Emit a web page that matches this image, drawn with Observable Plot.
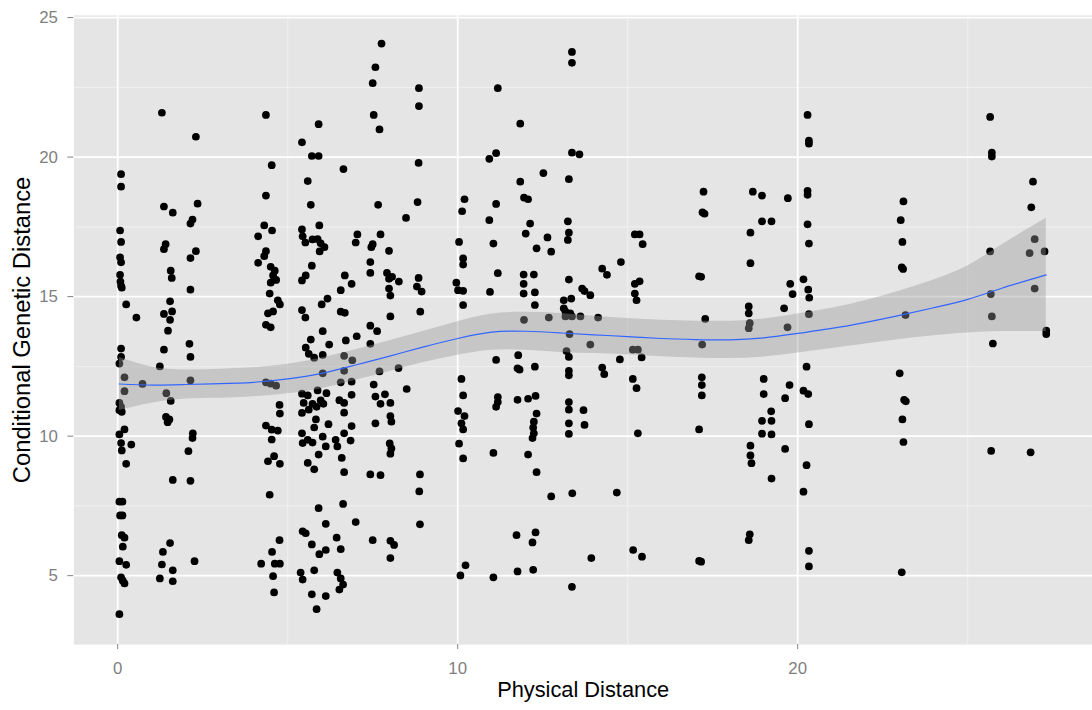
<!DOCTYPE html>
<html>
<head>
<meta charset="utf-8">
<script src="https://cdn.jsdelivr.net/npm/d3@7"></script>
<script src="https://cdn.jsdelivr.net/npm/@observablehq/plot@0.6"></script>
<style>
  html, body { margin: 0; padding: 0; overflow: hidden; background: #ffffff; }
</style>
</head>
<body>
<div id="chart"></div>
<script>
// Observations [physical distance, conditional genetic distance], grouped by distance cluster
const near0 = [[0.1,19.39],[0.1,18.94],[0.07,17.37],[0.1,16.96],[0.07,16.41],[0.1,16.23],[0.07,15.78],[0.08,15.54],[0.1,15.39],[0.12,15.32],[0.25,14.72],[0.55,14.25],[0.1,13.14],[0.1,12.84],[0.05,12.6],[0.2,12.11],[0.73,11.87],[0.2,11.61],[0.05,11.19],[0.1,11.05],[0.05,10.93],[0.12,10.87],[0.2,10.24],[0.05,10.06],[0.1,9.75],[0.4,9.7],[0.12,9.49],[0.25,9.01],[0.05,7.65],[0.14,7.65],[0.07,7.16],[0.14,7.16],[0.12,6.45],[0.2,6.36],[0.15,6.04],[0.05,5.52],[0.25,5.39],[0.1,4.94],[0.15,4.82],[0.2,4.72],[0.05,3.62]];
const near1 = [[1.3,21.59],[1.36,18.23],[1.62,18.01],[1.41,16.88],[1.36,16.7],[1.56,15.93],[1.59,15.67],[1.54,14.83],[1.36,14.38],[1.6,14.47],[1.54,14.17],[1.48,13.78],[1.36,13.1],[1.24,12.5],[1.43,11.54],[1.56,11.26],[1.42,10.69],[1.52,10.6],[1.47,10.5],[1.62,8.43],[1.54,6.17],[1.33,5.85],[1.3,5.4],[1.62,5.19],[1.24,4.9],[1.62,4.8]];
const near2 = [[2.3,20.73],[2.35,18.33],[2.2,17.76],[2.14,17.62],[2.3,16.63],[2.14,16.38],[2.14,15.25],[2.11,13.31],[2.14,12.84],[2.14,12.0],[2.21,10.1],[2.2,9.93],[2.08,9.46],[2.14,8.4],[2.26,5.52]];
const near4 = [[4.36,21.51],[4.53,19.71],[4.36,18.62],[4.31,17.55],[4.54,17.37],[4.13,17.16],[4.36,16.63],[4.31,16.45],[4.13,16.21],[4.5,16.07],[4.62,15.93],[4.57,15.76],[4.66,15.6],[4.5,15.5],[4.47,15.11],[4.71,14.87],[4.77,14.72],[4.42,14.4],[4.57,14.47],[4.36,13.99],[4.5,13.9],[4.36,11.93],[4.5,11.88],[4.66,11.81],[4.76,11.12],[4.77,10.81],[4.36,10.38],[4.53,10.23],[4.71,10.2],[4.53,9.88],[4.42,9.1],[4.6,9.28],[4.77,9.01],[4.47,7.9],[4.76,6.27],[4.54,5.85],[4.22,5.43],[4.62,5.43],[4.77,5.43],[4.57,4.98],[4.6,4.4]];
const near6 = [[5.42,20.53],[5.91,21.18],[5.71,20.04],[5.91,20.04],[5.59,19.14],[5.68,18.29],[5.93,17.55],[5.42,17.41],[5.44,17.16],[5.52,16.94],[5.73,17.05],[5.88,17.06],[5.97,16.91],[5.94,16.62],[6.08,16.77],[5.71,16.11],[5.53,15.76],[5.42,15.58],[6.17,14.93],[6.0,14.72],[5.42,14.52],[5.52,14.25],
  [6.03,13.76],[5.68,13.46],[5.53,13.17],[5.62,12.95],[5.78,12.81],[6.22,13.28],[6.03,12.91],[6.03,12.25],[5.42,11.52],[5.59,11.46],[5.88,11.64],[6.14,11.54],[5.47,11.19],[5.73,11.16],[5.97,11.28],[5.42,10.83],[5.62,10.95],[5.85,11.05],[6.05,11.16],[5.83,10.6],[5.78,10.31],[6.2,10.43],[5.42,10.1],[5.59,9.87],[5.73,9.77],[5.44,9.75],[6.03,9.98],[6.12,9.63],[5.91,9.34],[5.59,9.04],[5.78,8.81],
  [5.91,7.42],[6.12,6.86],[5.44,6.59],[5.53,6.52],[5.71,6.12],[5.93,5.77],[5.78,5.19],[5.38,5.11],[5.44,4.86],[5.71,4.33],[6.12,4.27],[5.85,3.8],[6.12,5.92]];
const near7 = [[6.64,19.57],[6.56,15.23],[6.68,15.76],[6.88,15.46],[6.56,14.46],[6.68,14.42],[7.05,17.23],[7.0,16.94],[7.5,16.88],[7.46,16.77],[7.43,16.24],[7.43,15.85],[7.73,17.23],[7.66,18.29],[7.43,13.96],[7.76,24.07],[7.58,23.22],[7.5,22.65],[7.53,21.51],[7.7,20.99],
  [6.71,13.43],[7.03,13.58],[7.63,13.76],[7.43,13.31],[6.66,12.88],[6.9,12.72],[6.66,12.34],[6.56,11.93],[6.88,11.95],[7.7,12.32],[7.53,11.85],[7.58,11.42],[7.73,11.16],[6.88,11.48],[6.52,11.29],[6.66,11.19],[6.66,10.84],[6.88,10.36],[6.66,10.1],[6.41,9.87],[6.46,9.63],[6.85,9.84],[6.59,9.22],[6.66,8.71],[7.43,8.63],[7.73,8.6],[7.58,10.46],
  [6.63,7.57],[7.0,6.92],[6.44,6.36],[6.56,5.95],[7.5,6.27],[6.46,5.11],[6.56,4.9],[6.63,4.68],[6.52,4.5]];
const near8 = [[7.98,16.64],[7.92,15.85],[8.07,15.71],[8.27,15.54],[7.98,15.64],[7.98,15.29],[8.02,15.04],[8.02,14.29],[8.86,22.47],[8.86,21.83],[8.85,19.79],[8.82,18.39],[8.48,17.82],[8.85,15.67],[8.8,15.36],[8.94,15.18],[8.9,14.46],
  [7.86,11.5],[8.02,11.19],[8.02,10.72],[8.05,10.52],[8.0,9.74],[8.05,9.56],[8.02,9.37],[8.26,12.44],[8.5,11.69],[8.89,8.63],[8.87,8.02],[8.89,6.84],[8.02,6.25],[8.13,6.1],[8.02,5.63]];
const near10 = [[10.2,18.49],[10.13,18.06],[10.04,16.96],[10.16,16.37],[10.16,16.15],[9.96,15.5],[10.16,15.21],[10.01,15.23],[10.16,14.7],[10.11,12.05],[10.16,11.46],[10.01,10.9],[10.2,10.72],[10.11,10.46],[10.16,10.24],[10.04,9.73],[10.16,9.2],[10.23,5.37],[10.08,5.01]];
const near11 = [[10.93,19.94],[11.13,20.14],[11.18,22.47],[11.13,18.32],[10.93,17.74],[11.05,16.9],[11.18,15.84],[10.95,15.17],[11.13,12.73],[11.18,11.4],[11.18,11.22],[11.13,11.05],[11.05,9.4],[11.05,4.94]];
const near12 = [[11.84,21.2],[11.84,19.12],[11.95,18.55],[12.07,18.49],[12.52,19.43],[12.13,17.62],[12.0,17.26],[12.32,16.73],[12.64,17.12],[12.75,16.61],[11.94,15.79],[12.24,15.79],[11.94,15.46],[11.94,15.11],[12.27,15.15],[12.27,14.7],[11.95,14.17],[12.68,14.25],[11.78,12.9],[11.76,12.43],[11.82,12.38],[12.27,12.49],[11.76,11.3],[12.07,11.34],[12.29,11.44],[12.32,10.81],[12.24,10.52],[12.22,10.31],[12.24,10.1],[12.2,9.93],[12.07,9.34],[12.32,8.71],[11.73,6.45],[12.29,6.55],[12.2,6.19],[11.76,5.15],[12.22,5.21],[12.75,7.84]];
const near13 = [[13.36,23.77],[13.36,23.38],[13.27,19.21],[13.36,20.16],[13.58,20.1],[13.24,17.7],[13.27,17.29],[13.24,17.03],[13.27,15.61],[13.66,15.29],[13.73,15.2],[13.9,15.05],[13.12,14.87],[13.34,14.93],[13.12,14.58],[13.17,14.46],[13.31,14.4],[13.17,14.29],[13.36,14.29],[13.61,14.29],[14.13,14.25],[13.29,13.66],[13.2,13.05],[13.27,12.84],[13.27,12.34],[13.27,12.18],[13.27,11.22],[13.27,10.95],[13.7,10.93],[13.27,10.46],[13.27,10.08],[13.73,10.4],[13.9,13.28],[13.37,7.95],[13.36,4.6],[13.93,5.63]];
const near15 = [[14.25,16.0],[14.39,15.78],[14.8,16.24],[14.25,12.46],[14.31,12.22],[14.77,12.75],[14.68,7.98],
  [15.21,17.23],[15.35,17.23],[15.44,16.88],[15.21,15.46],[15.35,15.55],[15.21,15.11],[15.26,14.87],[15.15,13.1],[15.3,13.1],[15.41,12.82],[15.15,12.05],[15.26,11.72],[15.3,10.1],[15.16,5.92],[15.42,5.68]];
const near17 = [[17.23,18.76],[17.2,18.02],[17.26,17.97],[17.1,15.73],[17.16,15.71],[17.28,14.2],[17.19,13.28],[17.18,12.11],[17.18,11.83],[17.18,11.46],[17.1,10.24],[17.1,5.53],[17.16,5.5]];
const near19 = [[18.61,17.29],[18.61,16.2],[18.68,18.76],[18.56,14.65],[18.56,14.4],[18.59,14.05],[18.56,13.87],[18.61,9.66],[18.61,9.31],[18.64,9.03],[18.59,6.48],[18.56,6.27],
  [18.95,18.62],[18.95,17.7],[19.23,17.7],[19.0,12.05],[19.0,11.51],[19.22,10.89],[18.95,10.55],[19.23,10.55],[18.95,10.09],[19.23,10.06],[19.23,8.48],
  [19.71,18.53],[19.78,15.46],[19.85,15.09],[19.6,14.58],[19.7,13.9],[19.76,11.83],[19.63,11.36],[19.63,9.54]];
const near20 = [[20.29,21.51],[20.33,20.59],[20.33,20.48],[20.29,18.79],[20.29,18.65],[20.29,17.59],[20.33,16.9],[20.17,15.62],[20.31,15.25],[20.34,14.96],[20.33,14.37],[20.26,12.49],[20.17,11.63],[20.31,11.51],[20.33,10.43],[20.26,8.96],[20.17,8.01],[20.33,5.89],[20.33,5.33]];
const near23 = [[23.11,18.41],[23.03,17.74],[23.08,16.96],[23.06,16.05],[23.1,15.99],[23.17,14.34],[23.0,12.25],[23.13,11.3],[23.18,11.25],[23.08,10.6],[23.11,9.79],[23.06,5.12]];
const near26 = [[25.66,21.44],[25.71,20.16],[25.71,20.02],[25.66,16.62],[25.68,15.09],[25.71,14.29],[25.74,13.32],[25.69,9.47]];
const near27 = [[26.92,19.12],[26.87,18.2],[26.97,17.06],[26.82,16.56],[27.26,16.62],[26.97,15.29],[27.31,13.78],[27.31,13.66],[26.85,9.42]];

// Loess smoother: fit and confidence band
const smoothX     = [0.05, 1, 2, 3, 4, 5, 6, 7, 8, 9, 10, 11, 12, 13, 14, 15, 16, 17, 18, 19, 20, 21, 22, 23, 24, 25, 26, 27.31];
const smoothFit   = [11.87, 11.83, 11.85, 11.88, 11.93, 12.05, 12.25, 12.55, 12.87, 13.2, 13.5, 13.73, 13.76, 13.7, 13.63, 13.57, 13.5, 13.46, 13.45, 13.52, 13.68, 13.86, 14.08, 14.33, 14.6, 14.9, 15.3, 15.78];
const smoothUpper = [12.82, 12.48, 12.37, 12.4, 12.45, 12.58, 12.8, 13.1, 13.42, 13.76, 14.1, 14.38, 14.44, 14.4, 14.3, 14.22, 14.15, 14.12, 14.12, 14.2, 14.38, 14.58, 14.86, 15.2, 15.6, 16.1, 16.85, 17.81];
const smoothLower = [10.92, 11.18, 11.33, 11.36, 11.41, 11.52, 11.7, 12.0, 12.32, 12.64, 12.9, 13.08, 13.08, 13.0, 12.96, 12.92, 12.85, 12.8, 12.78, 12.84, 12.98, 13.14, 13.3, 13.46, 13.6, 13.7, 13.75, 13.75];

// Axis ticks
const xTicks = [0, 10, 20];
const xMinor = [5, 15, 25];
const yTicks = [5, 10, 15, 20, 25];
const yMinor = [7.5, 12.5, 17.5, 22.5];

const points = [].concat(near0, near1, near2, near4, near6, near7, near8, near10, near11, near12, near13, near15, near17, near19, near20, near23, near26, near27)
  .map(([x, y]) => ({x, y}));
const smooth = smoothX.map((x, i) => ({x, fit: smoothFit[i], lo: smoothLower[i], hi: smoothUpper[i]}));

const font = "'Liberation Sans', Arial, Helvetica, sans-serif";

const chart = Plot.plot({
  width: 1102,
  height: 710,
  marginLeft: 74,
  marginRight: 0,
  marginTop: 15,
  marginBottom: 60,
  style: {background: "#ffffff", fontFamily: font, overflow: "visible"},
  x: {domain: [-1.29, 28.67]},
  y: {domain: [2.53, 25.08]},
  marks: [
    Plot.frame({fill: "#E5E5E5", stroke: "none"}),
    Plot.gridX(xMinor, {stroke: "#F2F2F2", strokeOpacity: 1, strokeWidth: 0.9}),
    Plot.gridY(yMinor, {stroke: "#F2F2F2", strokeOpacity: 1, strokeWidth: 0.9}),
    Plot.gridX(xTicks, {stroke: "#FFFFFF", strokeOpacity: 1, strokeWidth: 1.8}),
    Plot.gridY(yTicks, {stroke: "#FFFFFF", strokeOpacity: 1, strokeWidth: 1.8}),
    Plot.dot(points, {x: "x", y: "y", r: 3.9, fill: "#000000", stroke: "none"}),
    Plot.areaY(smooth, {x: "x", y1: "lo", y2: "hi", fill: "#999999", fillOpacity: 0.4, curve: "natural"}),
    Plot.lineY(smooth, {x: "x", y: "fit", stroke: "#3366FF", strokeWidth: 1.2, curve: "natural"}),
    Plot.axisX(xTicks, {tickSize: 5, tickPadding: 13, label: null, fontSize: 17, color: "#7F7F7F"}),
    Plot.axisY(yTicks, {tickSize: 6, tickPadding: 10, label: null, fontSize: 17, color: "#7F7F7F"}),
    Plot.text(["Physical Distance"], {frameAnchor: "bottom", dy: 46, lineAnchor: "middle", textAnchor: "middle", fontSize: 22, fill: "#000000"}),
    Plot.text(["Conditional Genetic Distance"], {frameAnchor: "left", dx: -52, rotate: -90, textAnchor: "middle", lineAnchor: "middle", fontSize: 24, fill: "#000000"})
  ]
});

document.getElementById("chart").appendChild(chart);
</script>
</body>
</html>
